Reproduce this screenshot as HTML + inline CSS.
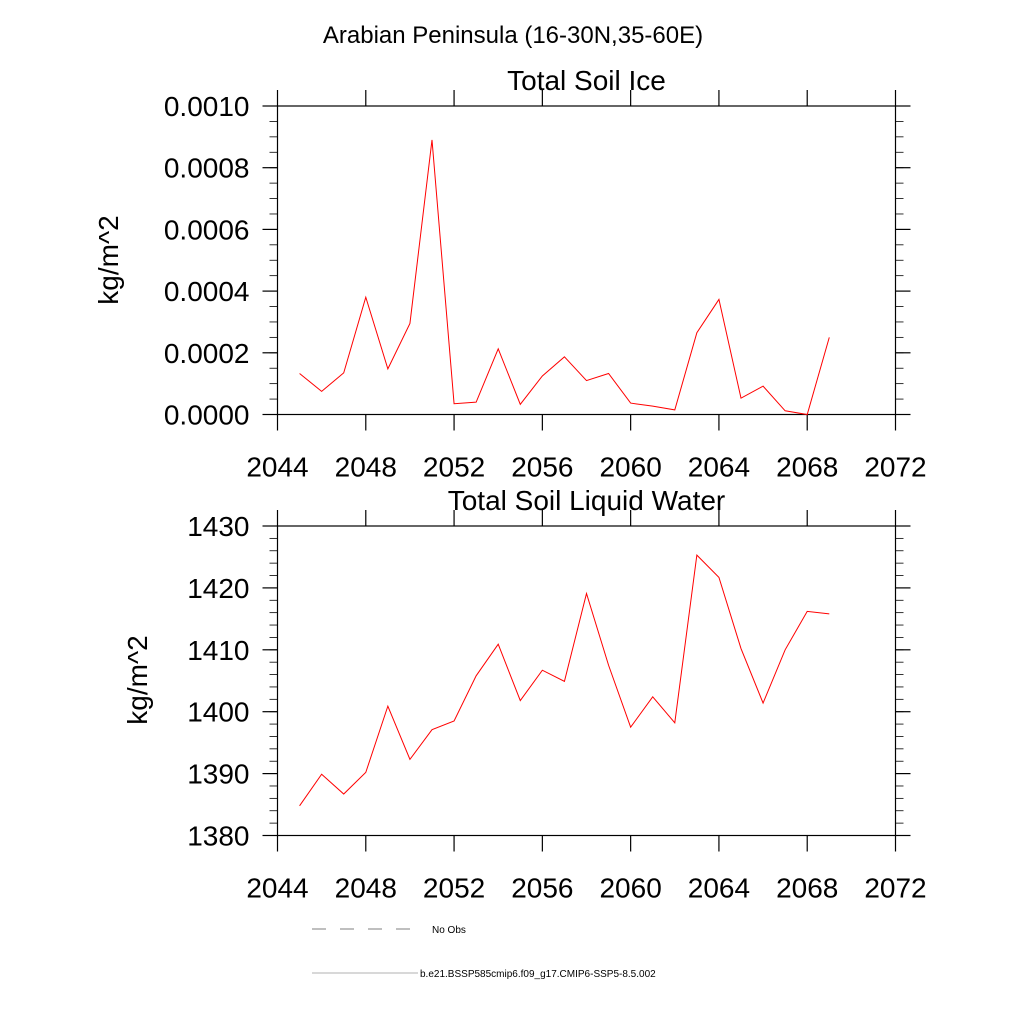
<!DOCTYPE html>
<html><head><meta charset="utf-8"><style>
body{margin:0;background:#fff}
svg{display:block;font-family:"Liberation Sans",sans-serif}
</style></head><body>
<svg id="c" width="1024" height="1024" viewBox="0 0 1024 1024">
<text x="513" y="43" font-size="24" text-anchor="middle">Arabian Peninsula (16-30N,35-60E)</text>
<g id="p1"></g>
<g id="p2"></g>
<g>
<line x1="312" y1="929" x2="418" y2="929" stroke="#000" stroke-width="0.6" stroke-dasharray="14,14"/>
<text x="432" y="933" font-size="10">No Obs</text>
<line x1="312" y1="973" x2="418" y2="973" stroke="#999" stroke-width="0.8"/>
<text x="420" y="977" font-size="10">b.e21.BSSP585cmip6.f09_g17.CMIP6-SSP5-8.5.002</text>
</g>
</svg>
<script>
const years=[2045,2046,2047,2048,2049,2050,2051,2052,2053,2054,2055,2056,2057,2058,2059,2060,2061,2062,2063,2064,2065,2066,2067,2068,2069];
const iceValues=[0.000133,0.000075,0.000135,0.00038,0.000148,0.000295,0.00089,0.000035,0.00004,0.000213,0.000033,0.000125,0.000187,0.00011,0.000133,0.000037,0.000027,0.000015,0.000265,0.000373,0.000053,0.000092,0.000012,0.0,0.00025];
const liquidValues=[1384.8,1389.9,1386.7,1390.2,1400.9,1392.3,1397.1,1398.5,1405.8,1410.9,1401.8,1406.7,1404.9,1419.1,1407.5,1397.5,1402.4,1398.2,1425.3,1421.7,1410.2,1401.4,1410.0,1416.2,1415.8];
const xTicks=[2044,2048,2052,2056,2060,2064,2068,2072];
const iceTicks=["0.0000","0.0002","0.0004","0.0006","0.0008","0.0010"];
const liquidTicks=["1380","1390","1400","1410","1420","1430"];
const NS="http://www.w3.org/2000/svg";
const L=277.5,R=895.5;
function mk(t,a,p){const e=document.createElementNS(NS,t);for(const k in a)e.setAttribute(k,a[k]);p.appendChild(e);return e;}
function panel(g,top,bot,vals,ticks,ymin,ymax,minorStep,title,prefix){
 const xs=v=>L+(v-2044)/(2072-2044)*(R-L);
 const ys=v=>bot-(v-ymin)/(ymax-ymin)*(bot-top);
 const fr=mk('rect',{x:L,y:top,width:R-L,height:bot-top,fill:'none',stroke:'#000','stroke-width':1.2},g);
 
 
 const tt=mk('text',{x:(L+R)/2,y:top-16,'font-size':28,'text-anchor':'middle'},g);tt.textContent=title;
 
 
 xTicks.forEach(v=>{const x=xs(v);
  mk('line',{x1:x,x2:x,y1:bot,y2:bot+16,stroke:'#000','stroke-width':1.2},g);
  mk('line',{x1:x,x2:x,y1:top,y2:top-16,stroke:'#000','stroke-width':1.2},g);
  const t=mk('text',{x:x,y:bot+62,'font-size':28,'text-anchor':'middle'},g);t.textContent=v;
  
  });
 for(let v=ymin;v<=ymax+minorStep/2;v+=minorStep){const y=ys(v);
  mk('line',{x1:L-8,x2:L,y1:y,y2:y,stroke:'#000','stroke-width':0.8},g);
  mk('line',{x1:R,x2:R+8,y1:y,y2:y,stroke:'#000','stroke-width':0.8},g);}
 ticks.forEach(s=>{const y=ys(parseFloat(s));
  mk('line',{x1:L-15,x2:L,y1:y,y2:y,stroke:'#000','stroke-width':1.2},g);
  mk('line',{x1:R,x2:R+15,y1:y,y2:y,stroke:'#000','stroke-width':1.2},g);
  const t=mk('text',{x:L-28,y:y+10,'font-size':28,'text-anchor':'end'},g);t.textContent=s;
  
  });
 const ln=mk('polyline',{points:years.map((yr,i)=>xs(yr)+','+ys(vals[i])).join(' '),fill:'none',stroke:'#f00','stroke-width':1},g);
 
 
 return ys;
}
panel(document.getElementById('p1'),106,414.5,iceValues,iceTicks,0,0.001,0.00005,'Total Soil Ice','ice');
panel(document.getElementById('p2'),526,835.5,liquidValues,liquidTicks,1380,1430,2,'Total Soil Liquid Water','liquid');
const svg=document.getElementById('c');
[[118,260],[147,680]].forEach((p,i)=>{const t=mk('text',{x:p[0],y:p[1],'font-size':28,'text-anchor':'middle',transform:'rotate(-90 '+p[0]+' '+p[1]+')'},svg);t.textContent='kg/m^2';
 
 });
</script>
</body></html>
